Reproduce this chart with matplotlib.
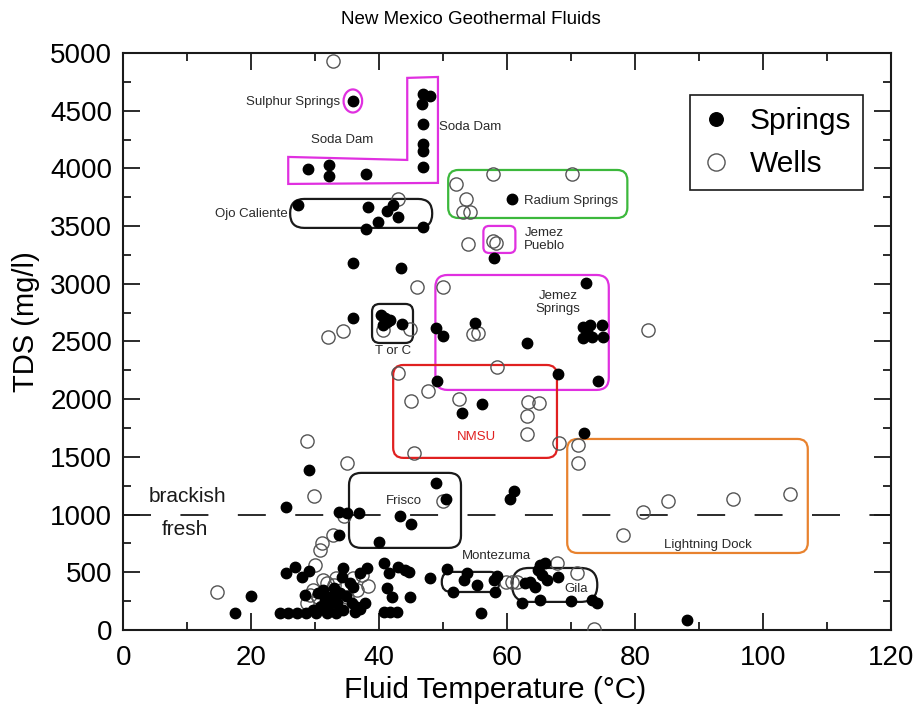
import numpy as np
import matplotlib
matplotlib.use("Agg")
import matplotlib.pyplot as plt
from matplotlib.patches import FancyBboxPatch, Ellipse, Polygon
from matplotlib.ticker import MultipleLocator

plt.rcParams["font.family"] = ["Liberation Sans", "DejaVu Sans"]

# ---- data (temperature degC, TDS mg/l) ----
springs_x = [35.9,
             46.9, 48.0, 46.7, 46.9, 46.9, 46.9, 46.9,
             28.9, 32.2, 32.2, 38.0,
             27.3, 38.3, 42.2, 41.2, 43.0, 39.8, 38.0, 46.9,
             60.8, 58.0, 36.0, 43.4,
             35.9, 40.9, 41.7, 40.6, 43.6, 40.3, 41.2,
             55.0, 50.0, 48.9,
             72.3, 71.9, 73.0, 74.8, 71.9, 73.3, 75.0, 72.5, 63.1, 74.2, 68.0,
             49.0, 56.1, 53.0, 72.0, 29.0,
             48.9, 50.5, 61.1, 60.5,
             25.5, 33.8, 35.0, 36.9, 43.3, 45.0, 40.0, 33.8,
             88.1,
             17.5, 20.0,
             25.5, 26.9, 27.9, 29.0,
             24.5, 25.8, 27.2, 28.6, 30.2, 31.8, 33.2, 34.4, 36.3, 37.0, 37.8, 36.5,
             28.4, 30.5, 31.3, 32.9, 33.9, 34.2, 34.4, 35.5, 36.0, 37.0, 38.1,
             33.4, 32.1, 30.8, 29.6, 32.4, 31.5, 33.0, 34.8, 35.7,
             40.7, 41.5, 43.0, 44.6, 44.1, 48.0, 41.2, 42.0, 44.8, 40.7, 41.7, 42.8,
             50.6, 53.7, 53.2, 55.3, 51.6, 57.9, 58.5, 58.1, 56.0,
             65.2, 65.9, 64.9, 65.4, 66.2, 63.6, 62.8, 64.4, 68.0, 62.3, 65.1, 70.0,
             73.2, 74.0]
springs_y = [4584,
             4645, 4628, 4558, 4385, 4212, 4150, 4012,
             3995, 4030, 3934, 3952,
             3683, 3666, 3683, 3631, 3579, 3536, 3475, 3492,
             3735, 3224, 3180, 3137,
             2704, 2704, 2686, 2643, 2652, 2730, 2665,
             2660, 2548, 2617,
             3007, 2626, 2643, 2643, 2530, 2539, 2539, 2582, 2487, 2158, 2218,
             2158, 1958, 1881, 1707, 1387,
             1274, 1135, 1205, 1135,
             1066, 1023, 1014, 1014, 988, 919, 763, 823,
             87,
             147, 295,
             491, 543, 462, 514,
             150, 150, 150, 150, 150, 150, 150, 170, 155, 180, 231, 200,
             303, 318, 347, 361, 318, 462, 534, 404, 376, 491, 534,
             231, 217, 202, 173, 289, 260, 260, 290, 231,
             578, 491, 549, 505, 520, 448, 361, 289, 289, 159, 159, 159,
             526, 491, 433, 390, 332, 433, 468, 332, 144,
             563, 584, 520, 477, 433, 419, 404, 375, 462, 231, 260, 254,
             260, 231]

wells_x = [32.8, 43.0,
           57.8, 70.2, 52.0, 53.6, 53.1, 54.2,
           53.9, 57.8, 58.3,
           45.9, 50.0,
           32.0, 34.4, 40.6, 44.8, 54.7, 55.5, 82.0,
           43.0, 58.4, 47.7, 45.0, 52.5,
           63.3, 65.0, 63.1, 63.1, 68.1, 71.1, 71.1,
           28.8, 45.5, 35.0, 50.0, 29.8, 34.5,
           32.8, 31.1, 30.8,
           81.3, 85.2, 95.3, 78.1, 104.2,
           73.6, 14.7,
           30.0, 29.7, 31.3, 32.9, 30.5, 33.2, 36.0, 38.3, 36.5, 29.2, 28.7,
           31.0, 35.0, 37.3, 31.9,
           59.9, 60.7, 61.5, 67.8, 70.9]
wells_y = [4931, 3735,
           3952, 3952, 3865, 3735, 3622, 3622,
           3345, 3371, 3354,
           2972, 2972,
           2539, 2591, 2600, 2608, 2565, 2574, 2600,
           2227, 2279, 2071, 1984, 2001,
           1976, 1967, 1855, 1699, 1621, 1603, 1447,
           1638, 1534, 1447, 1118, 1161, 988,
           823, 754, 693,
           1023, 1118, 1135, 823, 1179,
           10, 329,
           563, 347, 433, 390, 289, 448, 448, 381, 347, 303, 231,
           202, 289, 477, 404,
           419, 419, 419, 584, 497]

# group outlines: label, (x0, y0, x1, y1), colour
groups = [
    ("Ojo Caliente", (26.1, 3484, 48.3, 3735), "#1a1a1a"),
    ("Radium Springs", (50.8, 3570, 78.8, 3986), "#3cb83c"),
    ("Jemez Pueblo", (56.3, 3267, 61.3, 3501), "#e030e0"),
    ("Jemez Springs", (48.8, 2080, 75.9, 3076), "#e030e0"),
    ("T or C", (38.9, 2487, 45.3, 2825), "#1a1a1a"),
    ("NMSU", (42.2, 1491, 67.8, 2296), "#e02020"),
    ("Frisco", (35.3, 711, 52.8, 1361), "#1a1a1a"),
    ("Lightning Dock", (69.4, 667, 107.0, 1655), "#e8822e"),
    ("Montezuma", (49.8, 329, 58.8, 503), "#1a1a1a"),
    ("Gila", (60.8, 243, 74.1, 537), "#1a1a1a"),
]
corner = {"Ojo Caliente": 2.2, "Radium Springs": 1.6, "Jemez Pueblo": 0.9,
          "Jemez Springs": 1.9, "T or C": 1.2, "NMSU": 1.6, "Frisco": 1.9,
          "Lightning Dock": 1.6, "Montezuma": 1.5, "Gila": 2.6}
soda_dam_x = [25.8, 44.4, 44.4, 49.2, 49.2, 25.8]
soda_dam_y = [4099, 4073, 4784, 4792, 3874, 3865]

fig = plt.figure(figsize=(9.19, 7.11), dpi=100)
ax = fig.add_axes([0.134, 0.114, 0.8355, 0.8115])
ax.set_xlim(0, 120)
ax.set_ylim(0, 5000)

# aspect so rounded corners come out circular on screen
w_px = fig.get_figwidth() * fig.dpi * 0.8355
h_px = fig.get_figheight() * fig.dpi * 0.8115
asp = (w_px / 120) / (h_px / 5000)

for name, (x0, y0, x1, y1), col in groups:
    ax.add_patch(FancyBboxPatch((x0, y0), x1 - x0, y1 - y0,
                                boxstyle=f"round,pad=0,rounding_size={corner[name]}",
                                mutation_aspect=asp, fc="none", ec=col, lw=1.6, zorder=2))
ax.add_patch(Polygon(np.column_stack([soda_dam_x, soda_dam_y]), closed=True,
                     fc="none", ec="#e030e0", lw=1.6, zorder=2))
ax.add_patch(Ellipse((35.9, 4584), 2.9, 200, fc="none", ec="#e030e0", lw=1.6, zorder=2))

ax.axhline(1000, color="#1a1a1a", lw=1.3, dashes=(15.5, 16.3), zorder=1)

ax.plot(wells_x, wells_y, "o", ms=9.5, mfc="none", mec="#555555", mew=1.0,
        ls="none", zorder=3, label="Wells")
ax.plot(springs_x, springs_y, "o", ms=7.5, mfc="black", mec="black",
        ls="none", zorder=4, label="Springs")

# labels
small = dict(fontsize=9.5, color="#2a2a2a", zorder=5)
ax.text(33.9, 4575, "Sulphur Springs", ha="right", va="center", **small)
ax.text(34.2, 4246, "Soda Dam", ha="center", va="center", **small)
ax.text(49.4, 4359, "Soda Dam", ha="left", va="center", **small)
ax.text(25.8, 3605, "Ojo Caliente", ha="right", va="center", **small)
ax.text(62.7, 3718, "Radium Springs", ha="left", va="center", **small)
ax.text(62.7, 3380, "Jemez\nPueblo", ha="left", va="center", linespacing=1.1, **small)
ax.text(68.0, 2834, "Jemez\nSprings", ha="center", va="center", linespacing=1.1, **small)
ax.text(42.2, 2418, "T or C", ha="center", va="center", **small)
ax.text(43.9, 1118, "Frisco", ha="center", va="center", **small)
ax.text(58.3, 641, "Montezuma", ha="center", va="center", **small)
ax.text(70.8, 355, "Gila", ha="center", va="center", **small)
ax.text(91.4, 737, "Lightning Dock", ha="center", va="center", **small)
ax.text(55.2, 1673, "NMSU", ha="center", va="center", fontsize=9.5, color="#e02020")
ax.text(10.0, 1153, "brackish", ha="center", va="center", fontsize=15, color="#1a1a1a")
ax.text(9.7, 867, "fresh", ha="center", va="center", fontsize=15, color="#1a1a1a")

ax.xaxis.set_major_locator(MultipleLocator(20))
ax.xaxis.set_minor_locator(MultipleLocator(10))
ax.yaxis.set_major_locator(MultipleLocator(500))
ax.yaxis.set_minor_locator(MultipleLocator(250))
ax.tick_params(which="both", direction="in", top=True, right=True, width=1.3, color="#1a1a1a")
ax.tick_params(which="major", length=12.5, labelsize=20, pad=8)
ax.tick_params(axis="x", which="major", pad=11)
ax.tick_params(which="minor", length=6)
for s in ax.spines.values():
    s.set_linewidth(1.5)
    s.set_color("#1a1a1a")

ax.set_xlabel("Fluid Temperature (°C)", fontsize=21.5)
ax.set_ylabel("TDS (mg/l)", fontsize=21)
ax.xaxis.set_label_coords(0.485, -0.08)
ax.yaxis.set_label_coords(-0.108, 0.535)
fig.text(471 / 919, 1 - 20 / 711, "New Mexico Geothermal Fluids", fontsize=13.5,
         ha="center", va="center")

h, l = ax.get_legend_handles_labels()
leg = ax.legend(h[::-1], l[::-1], loc="upper left", bbox_to_anchor=(0.738, 0.927),
                borderaxespad=0, fontsize=21.5, fancybox=False, edgecolor="#1a1a1a",
                framealpha=1, markerscale=1.3, handletextpad=0.65, borderpad=0.4,
                labelspacing=0.5, handlelength=0.95)
leg.get_frame().set_linewidth(1.2)

fig.savefig("out.png", dpi=100)
